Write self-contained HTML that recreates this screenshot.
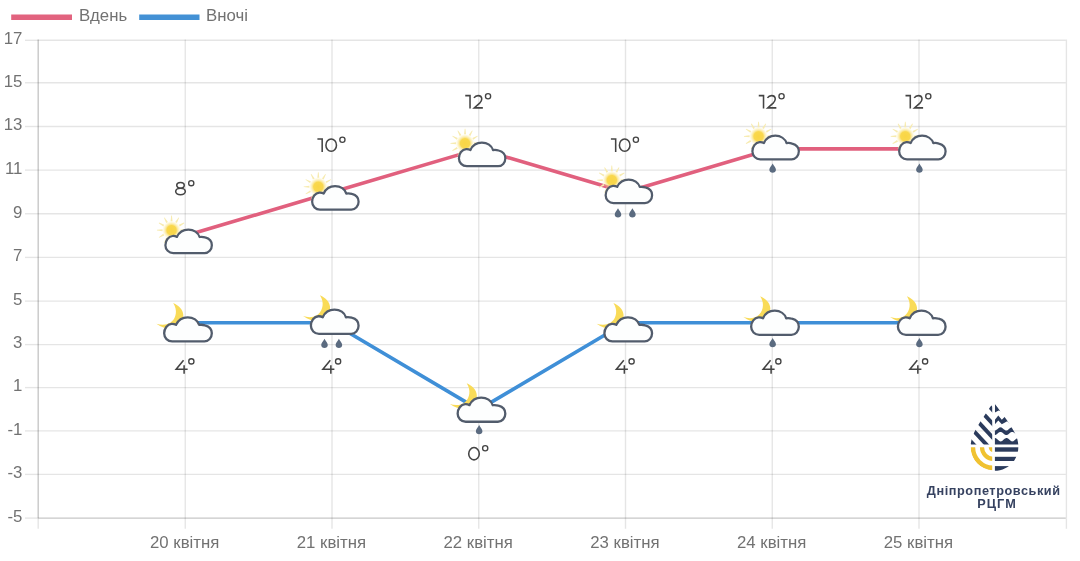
<!DOCTYPE html>
<html lang="uk"><head><meta charset="utf-8"><title>Прогноз</title>
<style>
html,body{margin:0;padding:0;background:#fff;}
body{width:1080px;height:561px;overflow:hidden;font-family:"Liberation Sans",sans-serif;}
svg{display:block;filter:blur(0.7px);}
text{font-family:"Liberation Sans",sans-serif;}
.ax{font-size:16.8px;fill:#727272;}
.lb{font-size:19px;fill:#444;letter-spacing:-0.9px;}
.lg{font-size:12.7px;font-weight:bold;fill:#364260;letter-spacing:0.58px;}
</style></head><body>
<svg width="1080" height="561" viewBox="0 0 1080 561">
<defs>
<g id="cloud">
<path d="M9,24.7 C4.6,24.7 1.15,21.2 1.15,16.8 C1.15,12.1 4.2,7.9 8.4,7.6 C10,7.5 11.4,7.8 12.7,8.5 C14.6,4.2 18.9,1.15 24.1,1.15 C29.6,1.15 33.9,4.3 35.3,8.6 C37,8.3 39.2,8.5 40.9,9 C45,10 47.6,13.2 47.6,16.8 C47.6,21.2 44.4,24.7 40.4,24.7 Z" fill="#fdfefe" stroke="#525c6c" stroke-width="2.25" stroke-linejoin="round"/>
</g>
<radialGradient id="sg" cx="0" cy="0" r="9.4" gradientUnits="userSpaceOnUse">
<stop offset="0" stop-color="#f9d545"/>
<stop offset="0.5" stop-color="#f9d84e"/>
<stop offset="0.66" stop-color="#fae27c" stop-opacity="0.7"/>
<stop offset="1" stop-color="#fbeeb0" stop-opacity="0"/>
</radialGradient>
<g id="sun">
<g fill="#f7ebb0">
<polygon points="1.00,-9.00 0.35,-14.60 -0.35,-14.60 -1.00,-9.00"/>
<polygon points="5.37,-7.29 7.60,-12.47 7.00,-12.82 3.63,-8.29"/>
<polygon points="8.29,-3.63 12.82,-7.00 12.47,-7.60 7.29,-5.37"/>
<polygon points="-3.63,-8.29 -7.00,-12.82 -7.60,-12.47 -5.37,-7.29"/>
<polygon points="-7.29,-5.37 -12.47,-7.60 -12.82,-7.00 -8.29,-3.63"/>
<polygon points="-9.00,-1.00 -14.60,-0.35 -14.60,0.35 -9.00,1.00"/>
<polygon points="-8.29,3.63 -12.82,7.00 -12.47,7.60 -7.29,5.37"/>
<polygon points="-5.37,7.29 -7.60,12.47 -7.00,12.82 -3.63,8.29"/>
<polygon points="9.00,1.00 14.60,0.35 14.60,-0.35 9.00,-1.00"/>
</g>
<circle cx="0" cy="0" r="9.4" fill="url(#sg)"/>
</g>
<g id="moon">
<path d="M10.2,-13.2 C16,-10.8 20.1,-6.2 20.3,-1.4 C20.5,3 19,7 15,10 C10,13.5 2,13.5 -6.6,7.6 C-1,9.6 5.5,9 9.2,5 C12.8,1.6 15,-6 10.2,-13.2 Z" fill="#f9db58"/>
</g>
<g id="g1"><path d="M0.1,-12.97 H4.88 V0" /></g>
<g id="g2"><path d="M0.9,-10.7 C1.9,-12.2 3.3,-12.98 5,-12.98 C7.2,-12.98 8.7,-11.6 8.7,-9.5 C8.7,-8 8.1,-6.9 6.6,-5.4 L1.2,-0.72 H9.8"/></g>
<g id="g0"><ellipse cx="6" cy="-6.85" rx="5.28" ry="6.13"/></g>
<g id="g4"><path d="M8.7,-13.45 L1.3,-4.45 H12.8 M9.25,-8.4 V0"/></g>
<g id="g8"><ellipse cx="5.55" cy="-10.15" rx="3.75" ry="2.85"/><ellipse cx="5.55" cy="-3.95" rx="4.83" ry="3.23"/></g>
<g id="gd"><circle cx="3.3" cy="-12.3" r="2.6" stroke-width="1.35"/></g>
<g id="drop">
<path d="M0,-4.6 C1.2,-2.2 3.3,-0.3 3.3,1.6 C3.3,3.5 1.8,4.6 0,4.6 C-1.8,4.6 -3.3,3.5 -3.3,1.6 C-3.3,-0.3 -1.2,-2.2 0,-4.6 Z" fill="#5b6b80"/>
</g>
</defs>
<rect width="1080" height="561" fill="#ffffff"/>

<g fill="none" stroke-width="1.4">
<line x1="25" y1="40.30" x2="38.2" y2="40.30" stroke="rgba(0,0,0,0.1)"/>
<line x1="38.2" y1="40.30" x2="1065.7" y2="40.30" stroke="rgba(0,0,0,0.1)"/>
<line x1="25" y1="82.75" x2="38.2" y2="82.75" stroke="rgba(0,0,0,0.1)"/>
<line x1="38.2" y1="82.75" x2="1065.7" y2="82.75" stroke="rgba(0,0,0,0.1)"/>
<line x1="25" y1="126.50" x2="38.2" y2="126.50" stroke="rgba(0,0,0,0.1)"/>
<line x1="38.2" y1="126.50" x2="1065.7" y2="126.50" stroke="rgba(0,0,0,0.1)"/>
<line x1="25" y1="170.10" x2="38.2" y2="170.10" stroke="rgba(0,0,0,0.1)"/>
<line x1="38.2" y1="170.10" x2="1065.7" y2="170.10" stroke="rgba(0,0,0,0.1)"/>
<line x1="25" y1="213.75" x2="38.2" y2="213.75" stroke="rgba(0,0,0,0.1)"/>
<line x1="38.2" y1="213.75" x2="1065.7" y2="213.75" stroke="rgba(0,0,0,0.1)"/>
<line x1="25" y1="257.40" x2="38.2" y2="257.40" stroke="rgba(0,0,0,0.1)"/>
<line x1="38.2" y1="257.40" x2="1065.7" y2="257.40" stroke="rgba(0,0,0,0.1)"/>
<line x1="25" y1="301.10" x2="38.2" y2="301.10" stroke="rgba(0,0,0,0.1)"/>
<line x1="38.2" y1="301.10" x2="1065.7" y2="301.10" stroke="rgba(0,0,0,0.1)"/>
<line x1="25" y1="344.60" x2="38.2" y2="344.60" stroke="rgba(0,0,0,0.1)"/>
<line x1="38.2" y1="344.60" x2="1065.7" y2="344.60" stroke="rgba(0,0,0,0.1)"/>
<line x1="25" y1="387.60" x2="38.2" y2="387.60" stroke="rgba(0,0,0,0.1)"/>
<line x1="38.2" y1="387.60" x2="1065.7" y2="387.60" stroke="rgba(0,0,0,0.1)"/>
<line x1="25" y1="430.90" x2="38.2" y2="430.90" stroke="rgba(0,0,0,0.1)"/>
<line x1="38.2" y1="430.90" x2="1065.7" y2="430.90" stroke="rgba(0,0,0,0.1)"/>
<line x1="25" y1="474.40" x2="38.2" y2="474.40" stroke="rgba(0,0,0,0.1)"/>
<line x1="38.2" y1="474.40" x2="1065.7" y2="474.40" stroke="rgba(0,0,0,0.1)"/>
<line x1="25" y1="518.10" x2="38.2" y2="518.10" stroke="rgba(0,0,0,0.1)"/>
<line x1="38.2" y1="518.10" x2="1065.7" y2="518.10" stroke="rgba(0,0,0,0.22)"/>
<line x1="38.20" y1="39.60" x2="38.20" y2="518.10" stroke="rgba(0,0,0,0.22)"/>
<line x1="38.20" y1="518.10" x2="38.20" y2="528.8" stroke="rgba(0,0,0,0.1)"/>
<line x1="185.25" y1="39.60" x2="185.25" y2="518.10" stroke="rgba(0,0,0,0.1)"/>
<line x1="185.25" y1="518.10" x2="185.25" y2="528.8" stroke="rgba(0,0,0,0.1)"/>
<line x1="332.00" y1="39.60" x2="332.00" y2="518.10" stroke="rgba(0,0,0,0.1)"/>
<line x1="332.00" y1="518.10" x2="332.00" y2="528.8" stroke="rgba(0,0,0,0.1)"/>
<line x1="478.75" y1="39.60" x2="478.75" y2="518.10" stroke="rgba(0,0,0,0.1)"/>
<line x1="478.75" y1="518.10" x2="478.75" y2="528.8" stroke="rgba(0,0,0,0.1)"/>
<line x1="625.50" y1="39.60" x2="625.50" y2="518.10" stroke="rgba(0,0,0,0.1)"/>
<line x1="625.50" y1="518.10" x2="625.50" y2="528.8" stroke="rgba(0,0,0,0.1)"/>
<line x1="772.25" y1="39.60" x2="772.25" y2="518.10" stroke="rgba(0,0,0,0.1)"/>
<line x1="772.25" y1="518.10" x2="772.25" y2="528.8" stroke="rgba(0,0,0,0.1)"/>
<line x1="919.00" y1="39.60" x2="919.00" y2="518.10" stroke="rgba(0,0,0,0.1)"/>
<line x1="919.00" y1="518.10" x2="919.00" y2="528.8" stroke="rgba(0,0,0,0.1)"/>
<line x1="1066.40" y1="39.60" x2="1066.40" y2="518.10" stroke="rgba(0,0,0,0.1)"/>
<line x1="1066.40" y1="518.10" x2="1066.40" y2="528.8" stroke="rgba(0,0,0,0.1)"/>
</g>
<text class="ax" x="22.3" y="44.10" text-anchor="end">17</text>
<text class="ax" x="22.3" y="86.55" text-anchor="end">15</text>
<text class="ax" x="22.3" y="130.30" text-anchor="end">13</text>
<text class="ax" x="22.3" y="173.90" text-anchor="end">11</text>
<text class="ax" x="22.3" y="217.55" text-anchor="end">9</text>
<text class="ax" x="22.3" y="261.20" text-anchor="end">7</text>
<text class="ax" x="22.3" y="304.90" text-anchor="end">5</text>
<text class="ax" x="22.3" y="348.40" text-anchor="end">3</text>
<text class="ax" x="22.3" y="391.40" text-anchor="end">1</text>
<text class="ax" x="22.3" y="434.70" text-anchor="end">-1</text>
<text class="ax" x="22.3" y="478.20" text-anchor="end">-3</text>
<text class="ax" x="22.3" y="521.90" text-anchor="end">-5</text>
<text class="ax" x="184.65" y="548.1" text-anchor="middle">20 квітня</text>
<text class="ax" x="331.40" y="548.1" text-anchor="middle">21 квітня</text>
<text class="ax" x="478.15" y="548.1" text-anchor="middle">22 квітня</text>
<text class="ax" x="624.90" y="548.1" text-anchor="middle">23 квітня</text>
<text class="ax" x="771.65" y="548.1" text-anchor="middle">24 квітня</text>
<text class="ax" x="918.40" y="548.1" text-anchor="middle">25 квітня</text>
<line x1="11.2" y1="17.2" x2="72" y2="17.2" stroke="#e2637f" stroke-width="5.6"/>
<text class="ax" x="79" y="20.8">Вдень</text>
<line x1="139.2" y1="17.2" x2="199.5" y2="17.2" stroke="#4391d5" stroke-width="5.6"/>
<text class="ax" x="206" y="20.8">Вночі</text>
<polyline points="185.25,235.78 332.00,192.33 478.75,148.88 625.50,192.33 772.25,148.88 919.00,148.88" fill="none" stroke="#e1607e" stroke-width="3.6" stroke-linejoin="round"/>
<polyline points="185.25,322.68 332.00,322.68 478.75,409.58 625.50,322.68 772.25,322.68 919.00,322.68" fill="none" stroke="#3f8fd7" stroke-width="3.6" stroke-linejoin="round"/>
<use href="#sun" x="171.55" y="230.20"/>
<use href="#cloud" transform="translate(164.25,228.40) scale(1.0)"/>
<use href="#moon" x="162.98" y="316.11"/>
<use href="#cloud" transform="translate(162.98,316.11) scale(1.026)"/>
<use href="#sun" x="318.30" y="186.75"/>
<use href="#cloud" transform="translate(311.00,184.95) scale(1.0)"/>
<use href="#moon" x="309.73" y="308.46"/>
<use href="#cloud" transform="translate(309.73,308.46) scale(1.026)"/>
<use href="#drop" x="324.50" y="343.39"/>
<use href="#drop" x="338.90" y="343.39"/>
<use href="#sun" x="465.05" y="143.30"/>
<use href="#cloud" transform="translate(457.75,141.50) scale(1.0)"/>
<use href="#moon" x="456.48" y="396.41"/>
<use href="#cloud" transform="translate(456.48,396.41) scale(1.026)"/>
<use href="#drop" x="479.15" y="429.54"/>
<use href="#sun" x="611.80" y="180.15"/>
<use href="#cloud" transform="translate(604.50,178.35) scale(1.0)"/>
<use href="#drop" x="618.00" y="212.90"/>
<use href="#drop" x="632.40" y="212.90"/>
<use href="#moon" x="603.23" y="316.11"/>
<use href="#cloud" transform="translate(603.23,316.11) scale(1.026)"/>
<use href="#sun" x="758.55" y="136.35"/>
<use href="#cloud" transform="translate(751.25,134.55) scale(1.0)"/>
<use href="#drop" x="772.65" y="168.20"/>
<use href="#moon" x="749.98" y="309.51"/>
<use href="#cloud" transform="translate(749.98,309.51) scale(1.026)"/>
<use href="#drop" x="772.65" y="342.64"/>
<use href="#sun" x="905.30" y="136.35"/>
<use href="#cloud" transform="translate(898.00,134.55) scale(1.0)"/>
<use href="#drop" x="919.40" y="168.20"/>
<use href="#moon" x="896.73" y="309.51"/>
<use href="#cloud" transform="translate(896.73,309.51) scale(1.026)"/>
<use href="#drop" x="919.40" y="342.64"/>
<g fill="none" stroke="#444" stroke-width="1.55" stroke-linejoin="miter">
<use href="#g8" x="174.95" y="195.48"/>
<use href="#gd" x="187.95" y="195.48"/>
</g>
<g fill="none" stroke="#444" stroke-width="1.55" stroke-linejoin="miter">
<use href="#g4" x="174.85" y="373.68"/>
<use href="#gd" x="188.05" y="373.68"/>
</g>
<g fill="none" stroke="#444" stroke-width="1.55" stroke-linejoin="miter">
<use href="#g1" x="317.30" y="152.03"/>
<use href="#g0" x="325.20" y="152.03"/>
<use href="#gd" x="339.10" y="152.03"/>
</g>
<g fill="none" stroke="#444" stroke-width="1.55" stroke-linejoin="miter">
<use href="#g4" x="321.60" y="373.68"/>
<use href="#gd" x="334.80" y="373.68"/>
</g>
<g fill="none" stroke="#444" stroke-width="1.55" stroke-linejoin="miter">
<use href="#g1" x="465.15" y="108.58"/>
<use href="#g2" x="473.05" y="108.58"/>
<use href="#gd" x="484.75" y="108.58"/>
</g>
<g fill="none" stroke="#444" stroke-width="1.55" stroke-linejoin="miter">
<use href="#g0" x="468.00" y="460.58"/>
<use href="#gd" x="481.90" y="460.58"/>
</g>
<g fill="none" stroke="#444" stroke-width="1.55" stroke-linejoin="miter">
<use href="#g1" x="610.80" y="152.03"/>
<use href="#g0" x="618.70" y="152.03"/>
<use href="#gd" x="632.60" y="152.03"/>
</g>
<g fill="none" stroke="#444" stroke-width="1.55" stroke-linejoin="miter">
<use href="#g4" x="615.10" y="373.68"/>
<use href="#gd" x="628.30" y="373.68"/>
</g>
<g fill="none" stroke="#444" stroke-width="1.55" stroke-linejoin="miter">
<use href="#g1" x="758.65" y="108.58"/>
<use href="#g2" x="766.55" y="108.58"/>
<use href="#gd" x="778.25" y="108.58"/>
</g>
<g fill="none" stroke="#444" stroke-width="1.55" stroke-linejoin="miter">
<use href="#g4" x="761.85" y="373.68"/>
<use href="#gd" x="775.05" y="373.68"/>
</g>
<g fill="none" stroke="#444" stroke-width="1.55" stroke-linejoin="miter">
<use href="#g1" x="905.40" y="108.58"/>
<use href="#g2" x="913.30" y="108.58"/>
<use href="#gd" x="925.00" y="108.58"/>
</g>
<g fill="none" stroke="#444" stroke-width="1.55" stroke-linejoin="miter">
<use href="#g4" x="908.60" y="373.68"/>
<use href="#gd" x="921.80" y="373.68"/>
</g>
<g id="logo">
<defs>
<clipPath id="dropL"><path d="M992.2,400 L992.2,472 L960,472 L960,400 Z"/></clipPath>
<clipPath id="dropAll"><path d="M993.6,402.2 C988.5,409.5 975.5,427.5 972.3,437.2 C969.6,445 970,454 975,461 C980,467.6 987,470.8 994.5,470.8 C1002,470.8 1009,467.6 1014,461 C1019,454 1019.4,445 1016.7,437.2 C1013.5,427.5 999,409.5 993.6,402.2 Z"/></clipPath>
<clipPath id="LU"><rect x="960" y="400" width="32.2" height="44.4"/></clipPath>
<clipPath id="LD"><rect x="960" y="447.3" width="32.2" height="30"/></clipPath>
<clipPath id="RR"><rect x="994.9" y="400" width="40" height="80"/></clipPath>
</defs>
<g clip-path="url(#dropAll)">
<g clip-path="url(#LU)" fill="#2b3b5c">
<polygon points="955,366.32 1000,414.92 1000,420.82 955,372.22"/>
<polygon points="955,380.12 1000,428.72 1000,434.62 955,386.02"/>
<polygon points="955,393.92 1000,442.52 1000,448.42 955,399.82"/>
<polygon points="955,407.72 1000,456.32 1000,462.22 955,413.62"/>
<polygon points="955,421.52 1000,470.12 1000,476.02 955,427.42"/>
<polygon points="955,435.32 1000,483.92 1000,489.82 955,441.22"/>
</g>
<g clip-path="url(#LD)" fill="none" stroke="#f0c232">
<circle cx="993.5" cy="447.3" r="20.6" stroke-width="4.6"/>
<circle cx="993.5" cy="447.3" r="11.5" stroke-width="4.2"/>
<circle cx="993.5" cy="447.3" r="4.8" fill="#f0c232" stroke="none"/>
</g>
<g clip-path="url(#RR)" fill="#2b3b5c">
<rect x="990" y="447.3" width="40" height="4.4"/>
<rect x="990" y="456.8" width="40" height="4.2"/>
<rect x="990" y="466.1" width="40" height="6"/>
<path d="M990.00,441.20 L990.58,440.88 L991.17,440.44 L991.75,439.93 L992.33,439.39 L992.92,438.89 L993.50,438.47 L994.08,438.16 L994.67,438.01 L995.25,438.03 L995.83,438.21 L996.42,438.54 L997.00,438.99 L997.58,439.50 L998.17,440.04 L998.75,440.54 L999.33,440.96 L999.92,441.25 L1000.50,441.39 L1001.08,441.36 L1001.67,441.17 L1002.25,440.84 L1002.83,440.39 L1003.42,439.87 L1004.00,439.33 L1004.58,438.84 L1005.17,438.42 L1005.75,438.14 L1006.33,438.01 L1006.92,438.04 L1007.50,438.24 L1008.08,438.59 L1008.67,439.04 L1009.25,439.56 L1009.83,440.10 L1010.42,440.59 L1011.00,441.00 L1011.58,441.27 L1012.17,441.40 L1012.75,441.35 L1013.33,441.14 L1013.92,440.79 L1014.50,440.33 L1015.08,439.81 L1015.67,439.27 L1016.25,438.78 L1016.83,438.38 L1017.42,438.12 L1018.00,438.00 L1018.58,438.06 L1019.17,438.28 L1019.75,438.63 L1020.33,439.10 L1020.92,439.62 L1021.50,440.15 L1022.08,440.64 L1022.67,441.03 L1023.25,441.30 L1023.83,441.40 L1024.42,441.33 L1025.00,441.11 L1025,444.4 L990,444.4 Z"/>
<path d="M990.00,427.58 L990.58,427.92 L991.17,428.36 L991.75,428.86 L992.33,429.36 L992.92,429.81 L993.50,430.17 L994.08,430.41 L994.67,430.50 L995.25,430.43 L995.83,430.21 L996.42,429.86 L997.00,429.41 L997.58,428.91 L998.17,428.42 L998.75,427.97 L999.33,427.61 L999.92,427.38 L1000.50,427.30 L1001.08,427.38 L1001.67,427.61 L1002.25,427.97 L1002.83,428.42 L1003.42,428.91 L1004.00,429.41 L1004.58,429.86 L1005.17,430.21 L1005.75,430.43 L1006.33,430.50 L1006.92,430.41 L1007.50,430.17 L1008.08,429.81 L1008.67,429.36 L1009.25,428.86 L1009.83,428.36 L1010.42,427.92 L1011.00,427.58 L1011.58,427.36 L1012.17,427.30 L1012.75,427.40 L1013.33,427.64 L1013.92,428.01 L1014.50,428.47 L1015.08,428.97 L1015.67,429.47 L1016.25,429.90 L1016.83,430.24 L1017.42,430.45 L1018.00,430.50 L1018.58,430.39 L1019.17,430.14 L1019.75,429.76 L1020.33,429.30 L1020.92,428.80 L1021.50,428.31 L1022.08,427.88 L1022.67,427.54 L1023.25,427.35 L1023.83,427.30 L1024.42,427.42 L1025.00,427.68 L1025.00,432.28 L1024.42,432.02 L1023.83,431.90 L1023.25,431.95 L1022.67,432.14 L1022.08,432.48 L1021.50,432.91 L1020.92,433.40 L1020.33,433.90 L1019.75,434.36 L1019.17,434.74 L1018.58,434.99 L1018.00,435.10 L1017.42,435.05 L1016.83,434.84 L1016.25,434.50 L1015.67,434.07 L1015.08,433.57 L1014.50,433.07 L1013.92,432.61 L1013.33,432.24 L1012.75,432.00 L1012.17,431.90 L1011.58,431.96 L1011.00,432.18 L1010.42,432.52 L1009.83,432.96 L1009.25,433.46 L1008.67,433.96 L1008.08,434.41 L1007.50,434.77 L1006.92,435.01 L1006.33,435.10 L1005.75,435.03 L1005.17,434.81 L1004.58,434.46 L1004.00,434.01 L1003.42,433.51 L1002.83,433.02 L1002.25,432.57 L1001.67,432.21 L1001.08,431.98 L1000.50,431.90 L999.92,431.98 L999.33,432.21 L998.75,432.57 L998.17,433.02 L997.58,433.51 L997.00,434.01 L996.42,434.46 L995.83,434.81 L995.25,435.03 L994.67,435.10 L994.08,435.01 L993.50,434.77 L992.92,434.41 L992.33,433.96 L991.75,433.46 L991.17,432.96 L990.58,432.52 L990.00,432.18 Z"/>
<path d="M994.9,419.8 L998.3,415.6 L1001.8,419.7 L1005.3,416.3 L1011,424.5 L1007.2,421.3 L1001.8,424.2 L998.3,420.6 L994.9,424.3 Z"/>
<path d="M994.9,400 L996.6,403.4 L1001.6,411.6 L998.6,410.4 L994.9,412.6 Z"/>
</g>
</g>
<text class="lg" x="993.7" y="494.8" text-anchor="middle">Дніпропетровський</text>
<text class="lg" x="997.1" y="507.9" text-anchor="middle" style="letter-spacing:1.1px">РЦГМ</text>
</g>
</svg></body></html>
